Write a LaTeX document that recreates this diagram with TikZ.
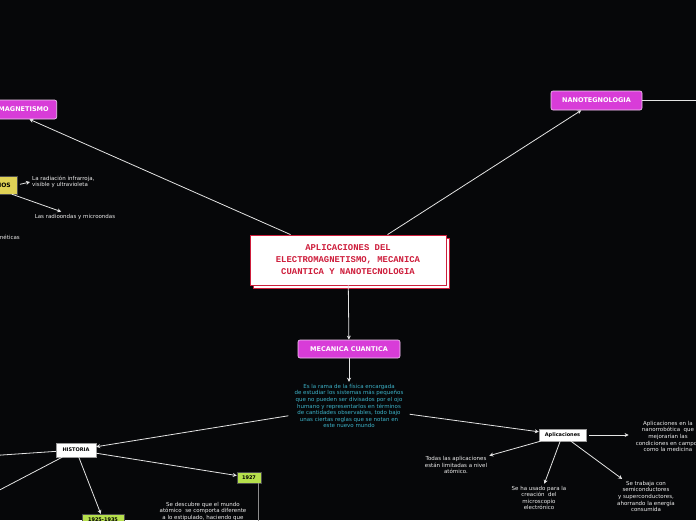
\documentclass[tikz,border=0pt]{standalone}
\usepackage{fontspec}
\setmainfont{DejaVu Sans}
\newfontfamily\titlefont{Liberation Mono}
\usetikzlibrary{arrows.meta,shadows}
\definecolor{bgdark}{HTML}{060709}
\definecolor{linegray}{HTML}{E4E4E4}
\definecolor{magentabox}{HTML}{D83CD8}
\definecolor{pinkedge}{HTML}{F4D0F4}
\definecolor{titlered}{HTML}{CE1E3C}
\definecolor{yellowbox}{HTML}{E0D256}
\definecolor{greenbox}{HTML}{B6E04C}
\definecolor{desccyan}{HTML}{3CB2C8}
\definecolor{notewhite}{HTML}{EEEEEE}
\tikzset{
  conn/.style={draw=linegray, line width=0.8pt},
  arr/.style={conn, -{Stealth[length=4pt,width=4pt]}},
  titlebox/.style={draw=titlered, fill=white, text=titlered, line width=0.8pt,
    font=\titlefont\fontsize{8.9}{12}\selectfont\bfseries, align=center,
    minimum width=196pt, minimum height=50pt,
    copy shadow={shadow xshift=3pt, shadow yshift=-3pt}},
  topic/.style={draw=pinkedge, fill=magentabox, rounded corners=2pt, text=white,
    line width=0.6pt, font=\fontsize{6.5}{8}\selectfont\bfseries, inner sep=0pt},
  wbox/.style={draw=black!40, fill=white, text=black, inner sep=0pt,
    font=\fontsize{5}{6}\selectfont\bfseries},
  yearbox/.style={draw=black!70, fill=greenbox, text=black, inner sep=0pt,
    font=\fontsize{5}{6}\selectfont\bfseries, minimum height=11pt},
  note/.style={text=notewhite, font=\fontsize{5.5}{6.6}\selectfont, align=center, inner sep=2pt}
}
\begin{document}
\begin{tikzpicture}[x=1pt,y=-1pt]
\useasboundingbox (0,0) rectangle (696,520);
\fill[bgdark] (0,0) rectangle (696,520);
\clip (0,0) rectangle (696,520);

% central topic
\node[titlebox] (title) at (348,260) {APLICACIONES DEL\\ELECTROMAGNETISMO, MECANICA\\CUANTICA Y NANOTECNOLOGIA};

% main branches
\node[topic, anchor=east, minimum height=19pt, inner xsep=8pt] (electro) at (57,109.5) {ELECTROMAGNETISMO};
\node[topic, minimum width=91pt, minimum height=19pt] (nano) at (596.5,100.5) {NANOTEGNOLOGIA};
\node[topic, minimum width=102pt, minimum height=18pt] (mecanica) at (349,349) {MECANICA CUANTICA};
\coordinate (nanoout) at (710,100.5);

% electromagnetismo
\node[draw=black!70, fill=yellowbox, text=black, font=\fontsize{6}{7}\selectfont\bfseries,
  anchor=east, text width=50pt, align=right, minimum height=18pt, inner xsep=6pt] (tipos) at (17,185) {MOS};
\node[note, anchor=west, align=left] (rad1) at (30,182) {La radiación infrarroja,\\visible y ultravioleta};
\node[note] (rad2) at (75,216.5) {Las radioondas y microondas};
\node[note, anchor=east] (ondas) at (22,238) {electromagnéticas};

% mecanica cuantica
\node[note, text=desccyan, inner xsep=6pt, inner ysep=2pt] (desc) at (349,406) {Es la rama de la física encargada\\de estudiar los sistemas más pequeños\\que no pueden ser divisados por el ojo\\humano y representarlos en términos\\de cantidades observables, todo bajo\\unas ciertas reglas que se notan en\\este nuevo mundo};
\node[wbox, minimum width=40pt, minimum height=14pt] (historia) at (76,450) {HISTORIA};
\node[wbox, minimum width=47pt, minimum height=12pt] (aplic) at (562.5,435) {Aplicaciones};
\coordinate (hleft) at (-10,455.8);
\coordinate (hlow) at (-10,495);

% historia
\node[yearbox, minimum width=24pt] (y1927) at (249,477.5) {1927};
\node[yearbox, minimum width=42pt] (y1925) at (103,519.5) {1925-1935};
\node[note, anchor=north] (t1927) at (203,500) {Se descubre que el mundo\\atómico\ \ se comporta diferente\\a lo estipulado, haciendo que};
\coordinate (ybot) at (258,530);

% aplicaciones
\node[note] (a1) at (668,436.5) {Aplicaciones en la\\nanorrobótica\ \ que\\mejorarían las\\condiciones en campos\\como la medicina};
\node[note] (a2) at (456,465) {Todas las aplicaciones\\están limitadas a nivel\\atómico.};
\node[note] (a3) at (539,498) {Se ha usado para la\\creación\ \ del\\microscopio\\electrónico};
\node[note] (a4) at (646,496.5) {Se trabaja con\\semiconductores\\y superconductores,\\ahorrando la energía\\consumida};

% connectors
\draw[arr] (title) -- (electro);
\draw[arr] (title) -- (nano);
\draw[arr] (title) -- (mecanica);
\draw[conn] (nano) -- (nanoout);
\draw[arr, shorten <=3pt] (tipos.east) -- (rad1.west);
\draw[arr] (tipos) -- (rad2);
\draw[arr] (mecanica) -- (desc);
\draw[arr] (desc) -- (historia);
\draw[arr] (desc) -- (aplic);
\draw[conn] (historia) -- (hleft);
\draw[conn] (historia) -- (hlow);
\draw[arr] (historia) -- (y1927);
\draw[arr] (historia) -- (y1925);
\draw[draw=black!45, line width=0.8pt] (ybot |- y1927.south) -- (ybot);
\draw[arr, shorten <=3pt, shorten >=5pt] (aplic) -- (aplic -| a1.west);
\draw[arr] (aplic) -- (a2);
\draw[arr] (aplic) -- (a3);
\draw[arr] (aplic) -- (a4);
\end{tikzpicture}
\end{document}
